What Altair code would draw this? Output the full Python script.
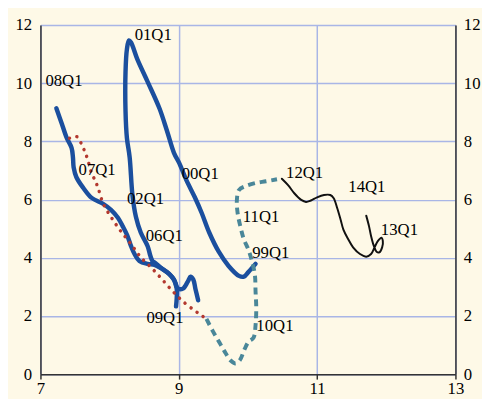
import altair as alt
import pandas as pd

# ---- data ----
# solid blue path, part 1: 99Q1 -> 00Q1 -> 01Q1 -> 02Q1 -> 03-05
blue1_x = [10.11, 10.01, 9.94, 9.87, 9.72, 9.58, 9.44, 9.33, 9.23, 9.11,
           9.01, 8.93, 8.83, 8.72, 8.55, 8.40, 8.31, 8.28, 8.25, 8.23,
           8.23, 8.25, 8.29, 8.33, 8.38, 8.45, 8.55, 8.59, 8.62, 8.66,
           8.76, 8.86, 8.93, 8.99, 9.06, 9.13, 9.17, 9.21, 9.24, 9.28]
blue1_y = [3.79, 3.52, 3.35, 3.38, 3.72, 4.20, 4.87, 5.55, 6.09, 6.67,
           7.24, 7.61, 8.36, 9.14, 10.05, 10.83, 11.40, 11.47, 11.17, 10.39,
           9.04, 8.12, 7.45, 6.16, 5.41, 4.87, 4.40, 4.06, 3.89, 3.82,
           3.62, 3.45, 3.25, 2.94, 2.94, 3.18, 3.35, 3.25, 2.94, 2.54]
# solid blue path, part 2: 08Q1 -> 07Q1 -> 06Q1 -> 09Q1
blue2_x = [7.23, 7.31, 7.38, 7.45, 7.47, 7.48, 7.52, 7.62, 7.74, 7.91,
           8.02, 8.12, 8.19, 8.26, 8.31, 8.36, 8.43, 8.55, 8.65, 8.76,
           8.86, 8.93, 8.97, 8.97, 8.96]
blue2_y = [9.14, 8.60, 8.12, 7.78, 7.45, 7.11, 6.77, 6.40, 6.06, 5.85,
           5.65, 5.38, 5.08, 4.74, 4.40, 4.13, 3.89, 3.79, 3.76, 3.62,
           3.45, 3.25, 2.94, 2.61, 2.33]
# dotted red curve
red_x = [7.42, 7.53, 7.59, 7.64, 7.68, 7.74, 7.80, 7.84, 7.91, 8.03,
         8.16, 8.31, 8.45, 8.62, 8.77, 8.92, 9.09, 9.28, 9.40]
red_y = [8.11, 8.16, 7.93, 7.66, 7.40, 6.91, 6.61, 6.35, 5.85, 5.37,
         4.92, 4.47, 4.02, 3.62, 3.23, 2.83, 2.44, 2.10, 1.90]
# dashed teal path: 09Q1 -> 10Q1 -> 11Q1 -> 12Q1
teal_x = [9.40, 9.49, 9.59, 9.68, 9.75, 9.82, 9.88, 9.95, 10.01, 10.08,
          10.11, 10.12, 10.11, 10.10, 10.06, 10.01, 9.94, 9.89, 9.85, 9.84,
          9.87, 9.96, 10.11, 10.26, 10.42]
teal_y = [1.90, 1.49, 1.08, 0.71, 0.47, 0.37, 0.47, 0.85, 1.12, 1.25,
          1.69, 2.27, 2.84, 3.42, 3.86, 4.26, 4.64, 5.08, 5.55, 5.99,
          6.33, 6.46, 6.57, 6.63, 6.70]
# thin black path: 12Q1 -> 13Q1 -> 14Q1
black_x = [10.49, 10.58, 10.67, 10.77, 10.84, 10.91, 11.00, 11.10, 11.19, 11.24,
           11.29, 11.34, 11.38, 11.45, 11.52, 11.62, 11.71, 11.78, 11.83, 11.88,
           11.93, 11.95, 11.94, 11.90, 11.86, 11.82, 11.78, 11.75, 11.71]
black_y = [6.72, 6.50, 6.22, 5.99, 5.92, 5.97, 6.08, 6.16, 6.16, 6.05,
           5.71, 5.31, 4.97, 4.64, 4.36, 4.13, 4.04, 4.13, 4.36, 4.58,
           4.69, 4.58, 4.36, 4.19, 4.21, 4.41, 4.75, 5.09, 5.45]

label_text = ["99Q1", "00Q1", "01Q1", "02Q1", "06Q1", "07Q1", "08Q1",
              "09Q1", "10Q1", "11Q1", "12Q1", "13Q1", "14Q1"]
label_x = [10.33, 9.31, 8.63, 8.52, 8.79, 7.82, 7.34,
           8.80, 10.39, 10.19, 10.82, 12.19, 11.72]
label_y = [4.16, 6.87, 11.64, 6.02, 4.74, 7.00, 10.08,
           1.93, 1.66, 5.41, 6.90, 4.97, 6.43]

x_ticks = [7, 9, 11, 13]
y_ticks = [0, 2, 4, 6, 8, 10, 12]

# ---- styling ----
BG = "#FEF9E7"
GRID = "#A9B6E6"
AX = "#333333"
FONT = "Liberation Serif"
FS = 17


def path_df(xv, yv, seg=0):
    return pd.DataFrame({"x": xv, "y": yv, "i": list(range(len(xv))), "seg": seg})


blue_df = pd.concat([path_df(blue1_x, blue1_y, 0), path_df(blue2_x, blue2_y, 1)])
red_df = path_df(red_x, red_y)
teal_df = path_df(teal_x, teal_y)
black_df = path_df(black_x, black_y)
lab_df = pd.DataFrame({"x": label_x, "y": label_y, "t": label_text})

xs = alt.Scale(domain=[7, 13], nice=False, zero=False)
ys = alt.Scale(domain=[0, 12], nice=False, zero=False)

x_axis = alt.Axis(values=x_ticks, grid=True, gridColor=GRID, gridWidth=1.5,
                  domainColor=AX, domainWidth=1.5, tickColor=AX, tickWidth=1.5,
                  tickSize=5, labelFont=FONT, labelFontSize=FS, labelColor="black",
                  labelPadding=2, labelFlush=False, title=None)
y_left = alt.Axis(values=y_ticks, orient="left", grid=True, gridColor=GRID, gridWidth=1.5,
                  domainColor=AX, domainWidth=1.5, ticks=False,
                  labelFont=FONT, labelFontSize=FS, labelColor="black",
                  labelPadding=9, labelFlush=False, title=None)
y_right = alt.Axis(values=y_ticks, orient="right", grid=False,
                   domainColor=AX, domainWidth=1.5, ticks=False,
                   labelFont=FONT, labelFontSize=FS, labelColor="black",
                   labelPadding=8, labelFlush=False, title=None)

x_enc = alt.X("x:Q", scale=xs, axis=x_axis)
y_enc = alt.Y("y:Q", scale=ys, axis=y_left)

blue = alt.Chart(blue_df).mark_line(
    color="#1B4F9E", strokeWidth=4.5, interpolate="catmull-rom",
    strokeCap="round", strokeJoin="round"
).encode(x=x_enc, y=y_enc, order="i:Q", detail="seg:N")

red = alt.Chart(red_df).mark_line(
    color="#B3392F", strokeWidth=3.5, interpolate="catmull-rom",
    strokeCap="round", strokeDash=[0.1, 7.5]
).encode(x=x_enc, y=y_enc, order="i:Q")

teal = alt.Chart(teal_df).mark_line(
    color="#4A8799", strokeWidth=4, interpolate="catmull-rom",
    strokeDash=[7, 5]
).encode(x=x_enc, y=y_enc, order="i:Q")

black = alt.Chart(black_df).mark_line(
    color="#111111", strokeWidth=2, interpolate="catmull-rom",
    strokeCap="round", strokeJoin="round"
).encode(x=x_enc, y=y_enc, order="i:Q")

labels = alt.Chart(lab_df).mark_text(
    font=FONT, fontSize=FS, color="black", align="center", baseline="middle"
).encode(x=x_enc, y=y_enc, text="t:N")

inner = alt.layer(blue, red, teal, black, labels)

right = alt.Chart(lab_df).mark_point(opacity=0).encode(
    x=x_enc, y=alt.Y("y:Q", scale=ys, axis=y_right)
)

chart = alt.layer(inner, right).resolve_axis(y="independent").properties(
    width=422, height=355,
    padding={"left": 33, "top": 14, "right": 27, "bottom": 30},
    autosize=alt.AutoSizeParams(type="none"),
    background=BG,
    usermeta={"embedOptions": {"defaultStyle": "body{background:#FEF9E7;}"}},
).configure_view(stroke="transparent")

chart.save("out.html", embed_options={"renderer": "svg", "actions": False})
